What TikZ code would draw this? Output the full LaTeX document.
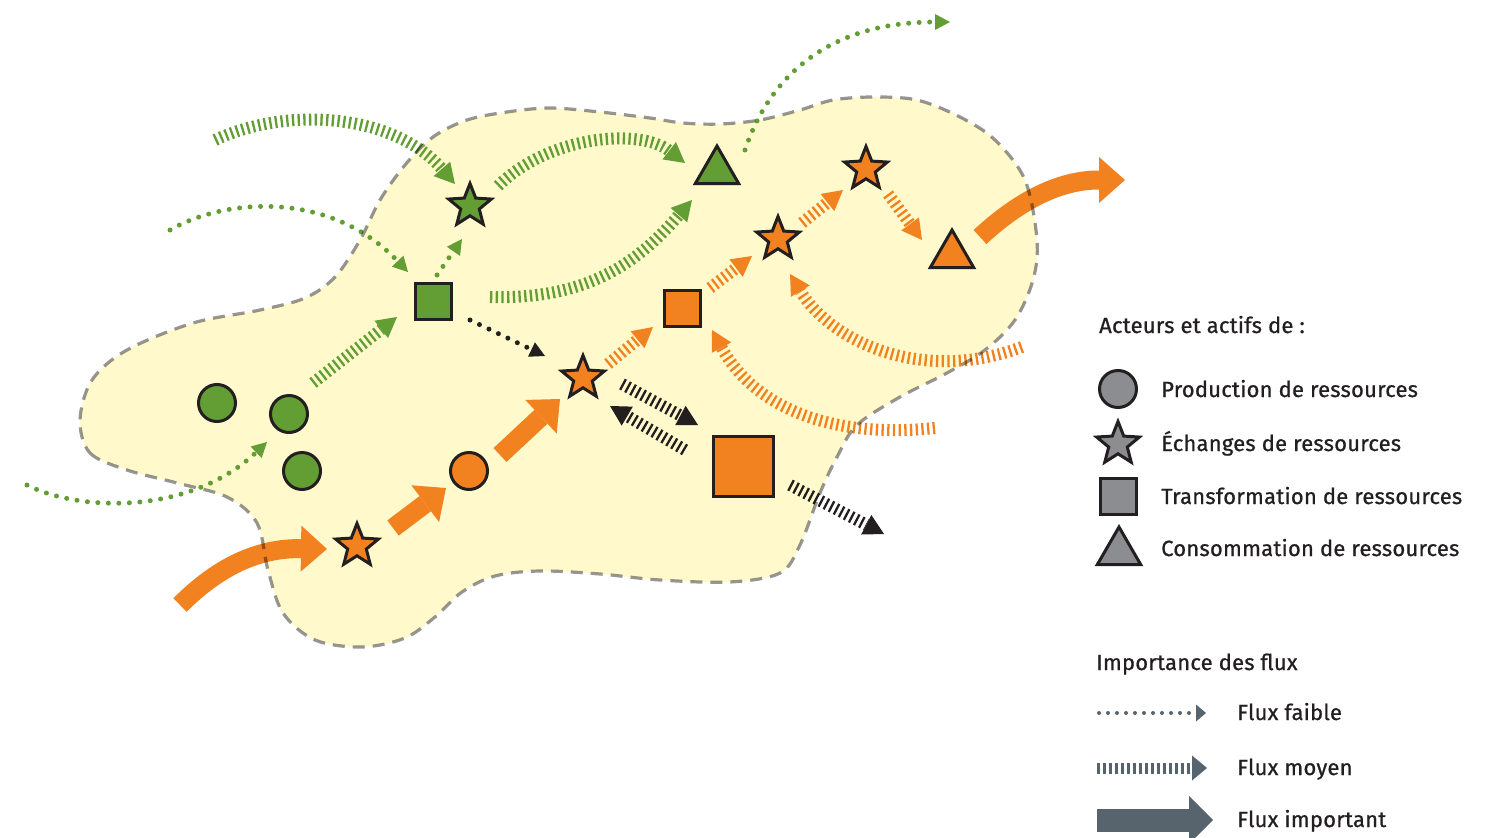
\documentclass[tikz,border=0pt]{standalone}
\usepackage{fontspec}
\setmainfont{Fira Sans}[FakeBold=0.8,LetterSpace=1]
\usetikzlibrary{shapes.geometric,arrows.meta,calc}
\definecolor{gr}{RGB}{99,158,52}
\definecolor{og}{RGB}{242,130,32}
\definecolor{yl}{RGB}{255,249,204}
\definecolor{bd}{RGB}{150,150,156}
\definecolor{ink}{RGB}{35,31,32}
\definecolor{lg}{RGB}{140,141,145}
\definecolor{sl}{RGB}{87,99,109}
\begin{document}
\begin{tikzpicture}[x=1pt,y=-1pt,
  actor/.style={draw=ink,line width=3pt,inner sep=0pt},
  prod/.style={actor,circle,minimum size=37pt},
  exch/.style={actor,star,star points=5,star point ratio=2.3,minimum size=45pt},
  trans/.style={actor,rectangle,minimum size=36pt},
  cons/.style={actor,regular polygon,regular polygon sides=3,minimum size=50pt},
  faible/.style={line width=5pt,dash pattern=on 0pt off 10.5pt,line cap=round,-{Triangle[length=15pt,width=16pt,line width=0pt]}},
  moyen/.style={line width=12pt,dash pattern=on 2.3pt off 3.4pt,-{Triangle[length=20pt,width=22pt,line width=0pt]}},
  fort/.style={line width=19pt,-{Triangle[length=26pt,width=46pt,line width=0pt]}},
  lab/.style={anchor=base west,inner sep=0pt,text=ink,font=\fontsize{22pt}{26pt}\selectfont}]
\useasboundingbox (0,0) rectangle (1497,838);
\def\blob{plot[smooth cycle,tension=0.55] coordinates {(80,420) (90,453) (127,470) (177,483) (227,497) (257,523) (268,570) (283,613) (315,640) (362,647) (405,638) (435,617) (462,592) (495,576) (540,571) (600,574) (660,580) (730,582) (780,573) (800,545) (820,493) (837,457) (857,425) (900,397) (947,373) (985,350) (1015,320) (1033,280) (1037,240) (1025,180) (995,140) (960,117) (917,100) (873,97) (833,100) (800,110) (760,120) (720,124) (683,123) (650,118) (600,112) (550,108) (507,112) (467,120) (433,137) (405,165) (380,200) (360,240) (335,277) (305,298) (260,310) (193,323) (127,350) (92,380)}}
\fill[yl] \blob;
% actors
\node[prod,fill=gr] (gc1) at (217,403) {};
\node[prod,fill=gr] (gc2) at (289,414) {};
\node[prod,fill=gr] (gc3) at (302,471) {};
\node[trans,fill=gr] (gsq) at (433,301) {};
\node[exch,fill=gr] (gst) at (470,206) {};
\node[cons,fill=gr] (gtr) at (717,171) {};
\node[exch,fill=og] (ost1) at (357,546) {};
\node[prod,fill=og] (oc) at (469,471) {};
\node[exch,fill=og] (ost2) at (583,378) {};
\node[trans,fill=og] (osq1) at (682,308) {};
\node[exch,fill=og] (ost3) at (778,239) {};
\node[exch,fill=og] (ost4) at (866,169) {};
\node[cons,fill=og] (otr) at (952,255) {};
\node[actor,rectangle,minimum size=60pt,fill=og] (osq2) at (743,466) {};
% free ends
\coordinate (g1s) at (27,485);
\coordinate (g2s) at (170,230);
\coordinate (g4e) at (950,22);
\coordinate (g5s) at (215,140);
\coordinate (o18s) at (180,605);
\coordinate (o21e) at (1125,180);
\coordinate (o13s) at (1022,347);
\coordinate (o14s) at (935,428);
\coordinate (k17e) at (884,534);
% green flows
\draw[faible,gr] (g1s) .. controls (80,512) and (190,515) .. ([shift={(-22,28)}]gc2.center);
\draw[faible,gr] (g2s) .. controls (225,198) and (330,190) .. ([shift={(-25,-29)}]gsq.center);
\draw[faible,gr] ([shift={(4,-26)}]gsq.center) -- ([shift={(-8,33)}]gst.center);
\draw[faible,gr] ([shift={(28,-21)}]gtr.center) .. controls (770,75) and (830,22) .. (g4e);
\draw[moyen,gr] (g5s) .. controls (290,105) and (395,115) .. ([shift={(-15,-22)}]gst.center);
\draw[moyen,gr] ([shift={(28,-20)}]gst.center) .. controls (550,135) and (640,128) .. ([shift={(-32,-8)}]gtr.center);
\draw[moyen,gr] ([shift={(57,-4)}]gsq.center) .. controls (590,300) and (640,260) .. ([shift={(-25,29)}]gtr.center);
\draw[moyen,gr] ([shift={(24,-31)}]gc2.center) -- ([shift={(-36,16)}]gsq.center);
% orange flows
\draw[fort,og] (o18s) .. controls (220,565) and (260,548) .. ([shift={(-30,3)}]ost1.center);
\draw[fort,og] ([shift={(36,-18)}]ost1.center) -- ([shift={(-23,17)}]oc.center);
\draw[fort,og] ([shift={(31,-16)}]oc.center) -- ([shift={(-23,21)}]ost2.center);
\draw[moyen,og] ([shift={(25,-14)}]ost2.center) -- ([shift={(-29,19)}]osq1.center);
\draw[moyen,og] ([shift={(28,-20)}]osq1.center) -- ([shift={(-26,17)}]ost3.center);
\draw[moyen,og] ([shift={(24,-16)}]ost3.center) -- ([shift={(-23,21)}]ost4.center);
\draw[moyen,og] ([shift={(22,25)}]ost4.center) -- ([shift={(-30,-15)}]otr.center);
\draw[fort,og] ([shift={(28,-18)}]otr.center) .. controls (1020,200) and (1060,180) .. (o21e);
\draw[moyen,og] (o13s) .. controls (920,385) and (830,340) .. ([shift={(12,35)}]ost3.center);
\draw[moyen,og] (o14s) .. controls (820,440) and (750,400) .. ([shift={(30,22)}]osq1.center);
% black flows
\draw[faible,ink] ([shift={(37,19)}]gsq.center) -- ([shift={(-38,-22)}]ost2.center);
\draw[moyen,ink] ([shift={(39,6)}]ost2.center) -- ([shift={(-45,-41)}]osq2.center);
\draw[moyen,ink] ([shift={(-58,-16)}]osq2.center) -- ([shift={(27,28)}]ost2.center);
\draw[moyen,ink] ([shift={(47,19)}]osq2.center) -- (k17e);
% border
\draw[bd,line width=3.2pt,dash pattern=on 12pt off 8pt,blend mode=multiply] \blob;
% legend
\node[lab] (t0) at (1099,333) {Acteurs et actifs de :};
\node[prod,fill=lg] (lc) at (1118,389) {};
\node[exch,fill=lg] (lst) at (1118,444) {};
\node[trans,fill=lg] (lsq) at (1118,496) {};
\node[cons,fill=lg] (ltr) at (1119,552) {};
\node[lab] (t1) at (1161,397) {Production de ressources};
\node[lab] (t2) at (1161,451) {Échanges de ressources};
\node[lab] (t3) at (1161,504) {Transformation de ressources};
\node[lab] (t4) at (1161,556) {Consommation de ressources};
\node[lab] (t5) at (1096,670) {Importance des flux};
\node[lab] (t6) at (1237,720) {Flux faible};
\node[lab] (t7) at (1237,775) {Flux moyen};
\node[lab] (t8) at (1237,827) {Flux important};
\coordinate (lfa) at (1099,713);
\coordinate (lfb) at (1206,713);
\coordinate (lma) at (1097,768);
\coordinate (lmb) at (1207,768);
\coordinate (lia) at (1097,820);
\coordinate (lib) at (1213,820);
\draw[sl,line width=4pt,dash pattern=on 0pt off 9pt,line cap=round,-{Triangle[length=10pt,width=17pt,line width=0pt]}] (lfa) -- (lfb);
\draw[sl,line width=11pt,dash pattern=on 3pt off 3pt,-{Triangle[length=15pt,width=25pt,line width=0pt]}] (lma) -- (lmb);
\draw[sl,line width=23pt,-{Triangle[length=24pt,width=48pt,line width=0pt]}] (lia) -- (lib);
\end{tikzpicture}
\end{document}
